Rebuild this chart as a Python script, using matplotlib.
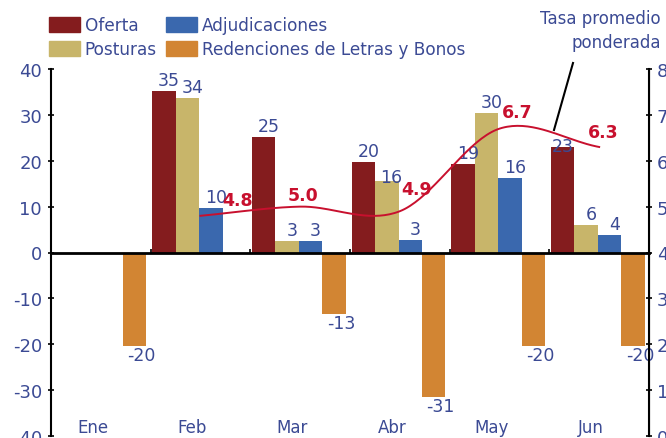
import numpy as np
import matplotlib
matplotlib.use("Agg")
import matplotlib.pyplot as plt
from matplotlib.patches import Patch

# Data (miles de millones)
MONTHS = ["Ene", "Feb", "Mar", "Abr", "May", "Jun"]
oferta = [np.nan, 35.1, 25.1, 19.8, 19.2, 22.9]
posturas = [np.nan, 33.7, 2.6, 15.6, 30.4, 6.1]
adjudicaciones = [np.nan, 9.8, 2.6, 2.8, 16.2, 3.9]
redenciones = [-20.4, np.nan, -13.4, -31.4, -20.3, -20.3]

TASA_MONTHS = ["Feb", "Mar", "Abr", "May", "Jun"]
tasa = [4.8, 5.0, 4.9, 6.7, 6.3]

NAVY = "#3B4A94"
RED = "#C8102E"
COLORS = {"Oferta": "#841C1E", "Posturas": "#C8B56A",
          "Adjudicaciones": "#3A68AE", "Redenciones de Letras y Bonos": "#D28533"}

plt.rcParams["font.family"] = ["DejaVu Sans"]
plt.rcParams["axes.unicode_minus"] = False


def catmull_rom(xs, ys, n=40):
    """Smooth curve through the points (Excel-style smoothed line)."""
    xs = np.asarray(xs, float)
    ys = np.asarray(ys, float)
    px = np.concatenate([[2 * xs[0] - xs[1]], xs, [2 * xs[-1] - xs[-2]]])
    py = np.concatenate([[2 * ys[0] - ys[1]], ys, [2 * ys[-1] - ys[-2]]])
    out_x, out_y = [], []
    t = np.linspace(0, 1, n)
    for i in range(1, len(px) - 2):
        for arr, out in ((px, out_x), (py, out_y)):
            p0, p1, p2, p3 = arr[i - 1], arr[i], arr[i + 1], arr[i + 2]
            c1 = p1 + (p2 - p0) / 6
            c2 = p2 - (p3 - p1) / 6
            seg = ((1 - t) ** 3 * p1 + 3 * (1 - t) ** 2 * t * c1
                   + 3 * (1 - t) * t ** 2 * c2 + t ** 3 * p2)
            out.extend(seg)
    return np.array(out_x), np.array(out_y)


fig = plt.figure(figsize=(6.66, 4.39), dpi=100)
ax = fig.add_axes([51 / 666, 2 / 439, 598 / 666, 367 / 439])
ax2 = ax.twinx()

x = np.arange(len(MONTHS))
w = 0.235
series = [("Oferta", oferta, -0.365), ("Posturas", posturas, -0.13),
          ("Adjudicaciones", adjudicaciones, 0.105),
          ("Redenciones de Letras y Bonos", redenciones, 0.34)]

# label offsets (px) that differ from the default
label_shift = {("Posturas", 3): (4, 4), ("Oferta", 5): (0, 1)}

for name, vals, off in series:
    ax.bar(x + off, vals, width=w, color=COLORS[name], zorder=2)
    for i, v in enumerate(vals):
        if np.isnan(v):
            continue
        dx, dy = label_shift.get((name, i), (5, 11))
        if v < 0:
            dx, dy = 7, -9
        ax.annotate(f"{v:.0f}", (x[i] + off, v), xytext=(dx * 0.72, dy * 0.72),
                    textcoords="offset points", ha="center", va="center",
                    color=NAVY, fontsize=12.5, zorder=5)

ax.set_xlim(-0.5, len(MONTHS) - 0.5)
ax.set_ylim(-40, 40)
ax.set_yticks(np.arange(-40, 41, 10))
ax.tick_params(axis="y", colors="black", labelcolor=NAVY, labelsize=13,
               direction="inout", length=5, width=1.2, pad=4)
ax.spines["top"].set_visible(False)
ax.spines["bottom"].set_position(("data", 0))
ax.spines["bottom"].set_linewidth(2)
ax.spines["left"].set_linewidth(1.5)
ax.set_xticks(np.arange(-0.5, len(MONTHS), 1.0))
ax.tick_params(axis="x", direction="in", length=3, width=1.2, labelbottom=False)

for i, m in enumerate(MONTHS):
    ax.text(x[i] - 0.08, -38, m, ha="center", va="center", color=NAVY, fontsize=12)

# Tasa promedio ponderada (right axis)
tx = [MONTHS.index(m) for m in TASA_MONTHS]
sx, sy = catmull_rom(tx, tasa)
ax2.plot(sx, sy, color=RED, lw=1.4, zorder=4)
tasa_offsets = [(37, 16), (3, 12), (17, 22), (18, 17), (4, 15)]
for xi, v, (dx, dy) in zip(tx, tasa, tasa_offsets):
    ax2.annotate(f"{v:.1f}", (xi, v), xytext=(dx * 0.72, dy * 0.72),
                 textcoords="offset points", ha="center", va="center",
                 color=RED, fontsize=12.5, fontweight="bold", zorder=6)
ax2.set_ylim(0, 8)
ax2.set_yticks(np.arange(0, 9, 1))
ax2.tick_params(axis="y", colors="black", labelcolor=NAVY, labelsize=13,
                direction="inout", length=5, width=1.2, pad=3)
for s in ("top", "bottom", "left"):
    ax2.spines[s].set_visible(False)
ax2.spines["right"].set_linewidth(1.5)

# leader line and caption for the rate
fig.text(661 / 666, 1 - 31 / 439, "Tasa promedio\nponderada", ha="right", va="center",
         color=NAVY, fontsize=12, linespacing=1.45)
fig.add_artist(plt.Line2D([573 / 666, 554 / 666], [1 - 64 / 439, 1 - 131 / 439],
                          color="black", lw=1.5))

handles = [Patch(color=COLORS[n]) for n in COLORS]
fig.legend(handles, list(COLORS), loc="upper left", bbox_to_anchor=(49 / 666, 1 - 17 / 439),
           ncol=2, frameon=False, fontsize=12.2, labelcolor=NAVY, handlelength=1.8,
           handleheight=1.0, handletextpad=0.3, columnspacing=0.55, labelspacing=0.35,
           borderaxespad=0, borderpad=0)

fig.savefig("out.png", dpi=100)
